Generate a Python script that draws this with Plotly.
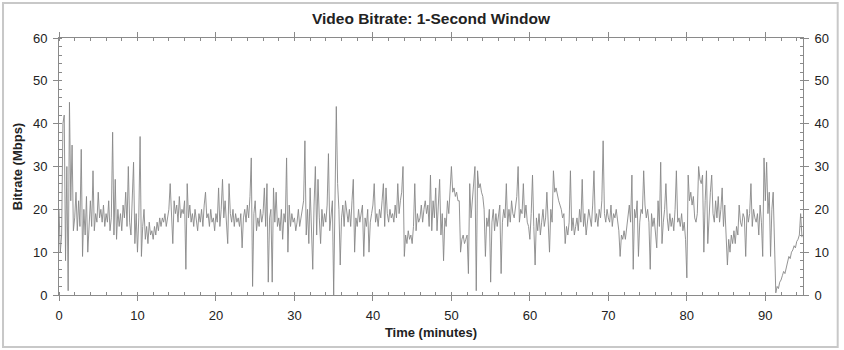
import plotly.graph_objects as go

# Video bitrate (Mbps), one value every 10 seconds; each row = one minute
bitrate_rows = [
    [20, 10, 14, 40, 42, 8],      # 0
    [30, 1, 45, 22, 35, 15],      # 1
    [18, 24, 15, 22, 16, 34],     # 2
    [9, 20, 14, 23, 10, 17],      # 3
    [22, 16, 29, 15, 19, 17],     # 4
    [24, 18, 20, 17, 21, 16],     # 5
    [19, 17, 22, 15, 18, 38],     # 6
    [14, 27, 13, 20, 16, 19],     # 7
    [15, 21, 18, 24, 16, 30],     # 8
    [17, 14, 22, 31, 12, 19],     # 9
    [10, 18, 37, 9, 16, 20],      # 10
    [13, 16, 12, 17, 14, 15],     # 11
    [13, 16, 14, 17, 15, 18],     # 12
    [16, 18, 17, 19, 16, 18],     # 13
    [20, 26, 18, 12, 22, 19],     # 14
    [21, 17, 23, 18, 20, 19],     # 15
    [22, 6, 26, 18, 21, 17],      # 16
    [19, 16, 20, 18, 15, 19],     # 17
    [17, 20, 16, 21, 24, 18],     # 18
    [19, 16, 20, 17, 18, 15],     # 19
    [19, 17, 25, 16, 20, 27],     # 20
    [18, 22, 17, 12, 26, 19],     # 21
    [17, 20, 16, 19, 17, 18],     # 22
    [16, 19, 11, 18, 20, 17],     # 23
    [21, 18, 23, 32, 2, 19],      # 24
    [22, 15, 18, 16, 20, 17],     # 25
    [19, 25, 16, 26, 3, 18],      # 26
    [20, 3, 25, 17, 24, 16],      # 27
    [18, 15, 20, 13, 19, 17],     # 28
    [32, 10, 21, 16, 19, 17],     # 29
    [18, 15, 17, 20, 16, 18],     # 30
    [19, 22, 36, 14, 20, 12],     # 31
    [25, 16, 6, 21, 30, 14],      # 32
    [27, 18, 12, 20, 16, 19],     # 33
    [17, 21, 33, 15, 19, 22],     # 34
    [0, 22, 44, 26, 20, 7],       # 35
    [18, 21, 16, 22, 19, 17],     # 36
    [20, 16, 22, 27, 10, 18],     # 37
    [16, 20, 17, 19, 21, 9],      # 38
    [18, 16, 20, 10, 17, 19],     # 39
    [21, 26, 17, 19, 16, 20],     # 40
    [18, 22, 26, 16, 25, 19],     # 41
    [17, 20, 18, 19, 17, 21],     # 42
    [18, 26, 19, 22, 24, 30],     # 43
    [9, 14, 12, 15, 13, 14],      # 44
    [12, 16, 26, 15, 19, 17],     # 45
    [18, 21, 17, 20, 22, 19],     # 46
    [21, 16, 28, 15, 22, 18],     # 47
    [25, 15, 20, 27, 14, 19],     # 48
    [8, 18, 16, 22, 19, 25],      # 49
    [30, 24, 25, 23, 24, 22],     # 50
    [22, 10, 13, 14, 12, 13],     # 51
    [14, 5, 26, 18, 22, 24],      # 52
    [30, 1, 29, 25, 26, 24],      # 53
    [23, 20, 9, 18, 16, 20],      # 54
    [3, 17, 20, 15, 19, 16],      # 55
    [18, 21, 5, 17, 20, 18],      # 56
    [26, 16, 20, 17, 22, 19],     # 57
    [18, 21, 23, 30, 17, 20],     # 58
    [19, 26, 18, 21, 17, 16],     # 59
    [13, 19, 28, 16, 7, 18],      # 60
    [15, 19, 14, 17, 20, 16],     # 61
    [18, 24, 15, 10, 20, 17],     # 62
    [29, 24, 25, 23, 22, 21],     # 63
    [20, 18, 19, 12, 16, 14],     # 64
    [17, 29, 15, 18, 14, 16],     # 65
    [18, 15, 20, 17, 27, 16],     # 66
    [19, 14, 17, 20, 18, 16],     # 67
    [21, 29, 17, 19, 16, 20],     # 68
    [18, 22, 36, 19, 17, 20],     # 69
    [18, 17, 21, 16, 19, 18],     # 70
    [20, 17, 15, 9, 14, 13],      # 71
    [15, 13, 16, 18, 21, 17],     # 72
    [28, 6, 20, 18, 22, 9],       # 73
    [17, 20, 19, 29, 21, 18],     # 74
    [20, 17, 6, 19, 16, 18],      # 75
    [15, 11, 22, 16, 31, 12],     # 76
    [17, 20, 26, 18, 15, 19],     # 77
    [16, 18, 15, 20, 29, 17],     # 78
    [18, 16, 19, 15, 17, 13],     # 79
    [4, 28, 22, 24, 21, 23],      # 80
    [18, 17, 19, 30, 27, 26],     # 81
    [28, 10, 22, 29, 12, 20],     # 82
    [24, 28, 19, 17, 22, 18],     # 83
    [23, 17, 20, 25, 16, 21],     # 84
    [15, 7, 13, 10, 14, 12],      # 85
    [15, 12, 16, 14, 21, 17],     # 86
    [16, 19, 18, 9, 20, 17],      # 87
    [19, 26, 16, 20, 18, 17],     # 88
    [19, 14, 21, 17, 9, 32],      # 89
    [22, 31, 19, 24, 9, 20],      # 90
    [24, 14, 0.5, 2, 1.5, 3],     # 91
    [3.5, 4.5, 5.5, 5, 6.5, 7.5], # 92
    [9, 8.5, 10, 10.5, 11.5, 11], # 93
    [12.5, 13, 14, 19, 13.5],     # 94
]

sample_step_min = 1.0 / 6.0
bitrate = [v for row in bitrate_rows for v in row]
time_min = [i * sample_step_min for i in range(len(bitrate))]

title_text = "Video Bitrate: 1-Second Window"
x_title = "Time (minutes)"
y_title = "Bitrate (Mbps)"
x_range = [0, 94.8]
y_range = [0, 60]

FONT = "Liberation Sans, Arial, sans-serif"
AX = "#8a8a8a"

fig = go.Figure()
fig.add_trace(go.Scatter(x=time_min, y=bitrate, mode="lines",
                         line=dict(color="#888888", width=0.9),
                         showlegend=False, hoverinfo="skip"))
fig.add_trace(go.Scatter(x=[None], y=[None], yaxis="y2", mode="lines",
                         showlegend=False, hoverinfo="skip"))

axis_common = dict(showgrid=False, zeroline=False, showline=True,
                   linecolor=AX, linewidth=1, ticks="outside", ticklen=5,
                   tickcolor=AX, tickwidth=1, ticklabelstandoff=3,
                   tickfont=dict(family=FONT, size=13, color="#222"))

fig.update_layout(
    width=844, height=350,
    margin=dict(l=59, r=41, t=38, b=55, autoexpand=False),
    paper_bgcolor="white", plot_bgcolor="white",
    title=dict(text="<b>" + title_text + "</b>", x=0.5, xref="paper",
               y=1 - 19 / 350, yanchor="middle",
               font=dict(family=FONT, size=15.5, color="#222")),
    xaxis=dict(range=x_range, dtick=10, tick0=0, mirror="ticks",
               minor=dict(dtick=2, ticks="inside", ticklen=3, tickcolor=AX),
               title=dict(text="<b>" + x_title + "</b>", standoff=6,
                          font=dict(family=FONT, size=13, color="#222")),
               **axis_common),
    yaxis=dict(range=y_range, dtick=10, tick0=0, mirror="ticks",
               minor=dict(dtick=2, ticks="inside", ticklen=3, tickcolor=AX),
               title=dict(text="<b>" + y_title + "</b>", standoff=7,
                          font=dict(family=FONT, size=13, color="#222")),
               **axis_common),
    yaxis2=dict(range=y_range, dtick=10, tick0=0, overlaying="y", side="right",
                minor=dict(dtick=2, ticks="inside", ticklen=3, tickcolor=AX),
                **axis_common),
    shapes=[dict(type="rect", xref="paper", yref="paper",
                 x0=(3 - 59) / 744.3, x1=(838 - 59) / 744.3,
                 y0=(295 - 347) / 257, y1=(295 - 3) / 257,
                 line=dict(color="#c8c8c8", width=2), layer="below")],
)

fig.write_html("out.html")
